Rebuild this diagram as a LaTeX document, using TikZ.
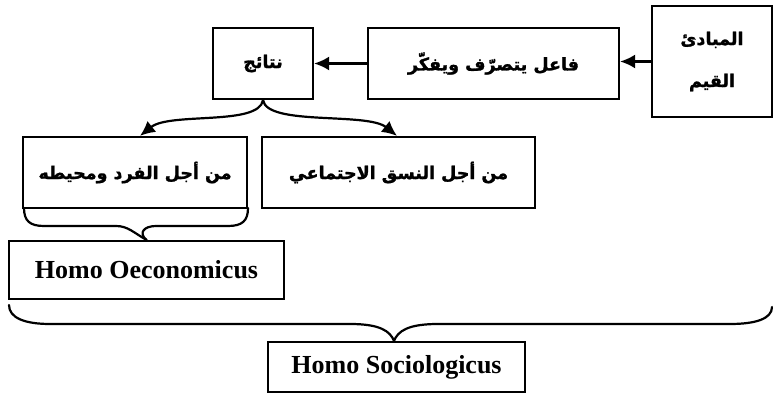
\documentclass[tikz,border=0pt]{standalone}
\usepackage{fontspec}
\setmainfont{Liberation Serif}
\newfontfamily\arabicfont[Script=Arabic, BoldFeatures={FakeBold=1.5}]{DejaVu Sans}
\TeXXeTstate=1
\usetikzlibrary{arrows.meta}

\begin{document}
\begin{tikzpicture}[x=1pt,y=1pt,
  box/.style={draw, line width=2.2pt, inner sep=0pt, align=center},
  artext/.style={font=\arabicfont\bfseries\fontsize{17.5}{42}\selectfont},
  latext/.style={font=\bfseries\fontsize{26}{30}\selectfont},
  arr/.style={line width=2.2pt, -{Latex[length=15pt,width=14pt]}},
  bracepath/.style={line width=2.2pt, line cap=round, line join=round}]
\useasboundingbox (0,0) rectangle (773,393);

% top row
\node[box, artext, minimum width=120pt, minimum height=111pt] (mabadi) at (712,331.5)
  {\beginR المبادئ\endR\\ \beginR القيم\endR};
\node[box, artext, minimum width=251pt, minimum height=71pt] (faail) at (493.5,329.5)
  {\beginR فاعل يتصرّف ويفكّر\endR};
\node[box, artext, minimum width=100pt, minimum height=71pt] (nataij) at (263,329.5)
  {\beginR نتائج\endR};

% second row
\node[box, artext, minimum width=224pt, minimum height=71pt] (fard) at (135,220.5)
  {\raisebox{4pt}{\beginR من أجل الفرد ومحيطه\endR}};
\node[box, artext, minimum width=273pt, minimum height=71pt] (nasaq) at (398.5,220.5)
  {\raisebox{4pt}{\beginR من أجل النسق الاجتماعي\endR}};

% labels under the braces
\node[box, latext, minimum width=275pt, minimum height=58pt] (oec) at (146.5,123)
  {Homo Oeconomicus};
\node[box, latext, minimum width=257pt, minimum height=50pt] (soc) at (396.5,26)
  {Homo Sociologicus};

% arrows
\draw[arr] (mabadi.west) -- (mabadi.west -| faail.east);
\draw[arr] (faail.west) -- (nataij.east);
\draw[arr] (nataij.south) .. controls +(-4,-26) and +(30,24) .. (fard.north -| 140,0);
\draw[arr] (nataij.south) .. controls +(4,-26) and +(-30,24) .. (nasaq.north -| 397,0);

% brace under the individual box
\draw[bracepath] (24,185) .. controls (24,172) and (30,167) .. (44,167) -- (116,167)
  .. controls (128,167) and (134,160) .. (oec.north);
\draw[bracepath] (248,185) .. controls (248,172) and (242,167) .. (228,167) -- (156,167)
  .. controls (144,167) and (138,160) .. (oec.north);

% wide brace over the whole scheme
\draw[bracepath] (9,88) .. controls (9,75) and (25,69) .. (50,69) -- (350,69)
  .. controls (380,69) and (390,62) .. (soc.north -| 394,0);
\draw[bracepath] (772,86) .. controls (772,74) and (755,69) .. (730,69) -- (438,69)
  .. controls (408,69) and (398,62) .. (soc.north -| 394,0);
\end{tikzpicture}
\end{document}
